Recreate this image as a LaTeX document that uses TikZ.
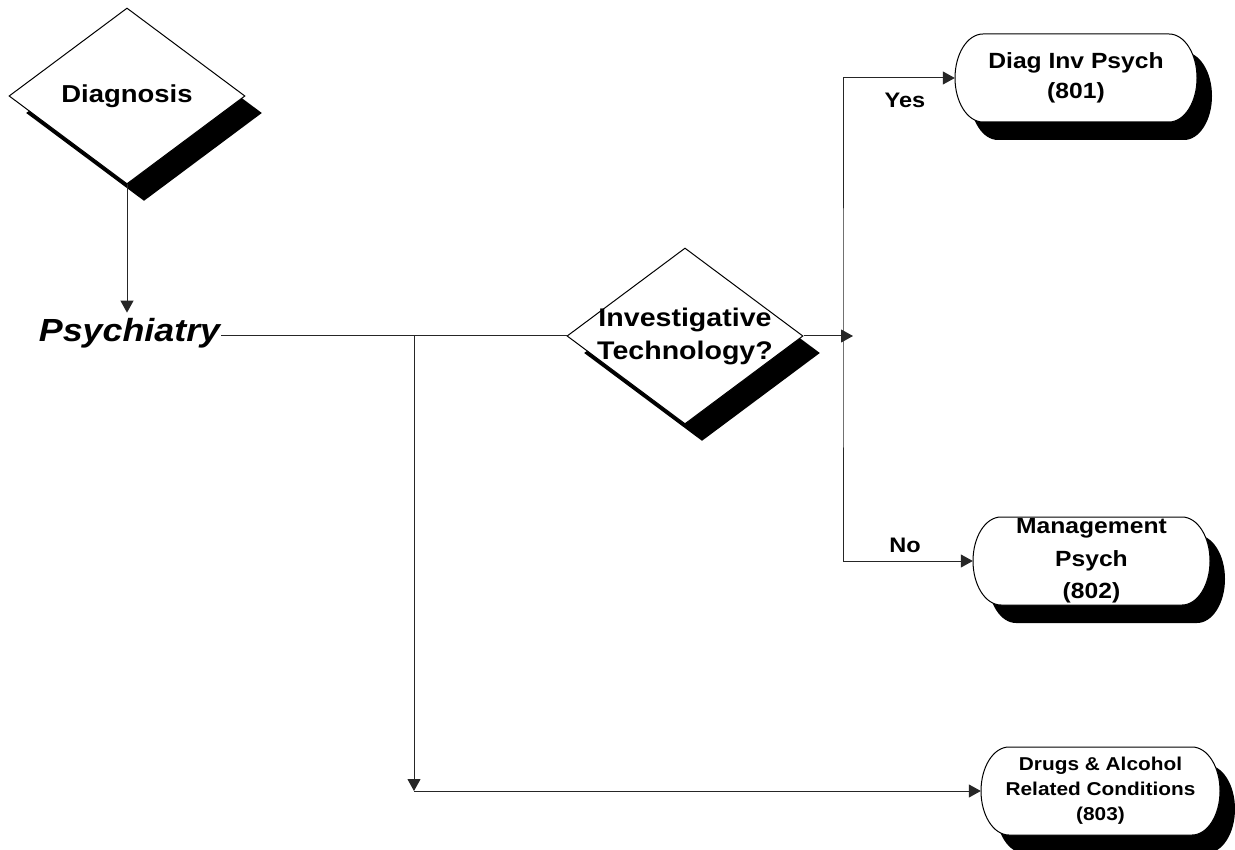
\documentclass[tikz,border=0pt]{standalone}
\usepackage{fontspec}
\setmainfont{Liberation Sans}[FakeStretch=1.12]
\usetikzlibrary{shapes.geometric,shadows,arrows.meta,backgrounds}
\tikzset{
  conn/.style={line width=1pt, draw=black!85},
  tipstyle/.style={},
  arr/.style={conn, -{Triangle[length=12pt,width=13pt]}},
  decision/.style={diamond, draw=black, line width=1pt, fill=white,
    minimum width=236pt, minimum height=176pt, inner sep=0pt,
    drop shadow={shadow xshift=17pt, shadow yshift=-17pt, fill=black, opacity=1}},
  termnode/.style={rectangle, inner sep=0pt, align=center},
  lbl/.style={font=\bfseries\fontsize{21}{25}\selectfont, anchor=base},
}
\newcommand\termshape[2]{%
  \begin{scope}[on background layer]
    \fill[black] ([shift={(15,18)}]#1.center) ++({-#2+28},-44) -- ++({2*#2-56},0)
      arc[start angle=90, end angle=-90, x radius=28pt, y radius=44pt]
      -- ++({-2*#2+56},0)
      arc[start angle=270, end angle=90, x radius=28pt, y radius=44pt] -- cycle;
    \draw[line width=1pt, fill=white] (#1.center) ++({-#2+28},-44) -- ++({2*#2-56},0)
      arc[start angle=90, end angle=-90, x radius=28pt, y radius=44pt]
      -- ++({-2*#2+56},0)
      arc[start angle=270, end angle=90, x radius=28pt, y radius=44pt] -- cycle;
  \end{scope}}
\begin{document}
\begin{tikzpicture}[x=1pt, y=-1pt]
\useasboundingbox (0,0) rectangle (1235,850);
\begin{scope}[on background layer]
  \fill[white] (0,0) rectangle (1235,850);
\end{scope}

% decisions
\node[decision, label={[font=\bfseries\fontsize{24.5}{29}\selectfont]center:Diagnosis}] (diag) at (127,96) {};
\node[decision, label={[font=\bfseries\fontsize{25.5}{33}\selectfont, align=center]center:Investigative\\Technology?}] (inv) at (685,336) {};

% category
\node[font=\bfseries\itshape\fontsize{32}{38}\selectfont, anchor=base, inner xsep=1pt, inner ysep=6pt] (psych) at (129.5,342) {Psychiatry};

% terminals
\node[termnode, minimum width=242pt, font=\bfseries\fontsize{22}{30}\selectfont] (dinv) at (1076,78) {Diag Inv Psych\\(801)};
\node[termnode, minimum width=237pt, font=\bfseries\fontsize{22}{32.5}\selectfont] (mgmt) at (1091.5,561) {Management\\Psych\\(802)};
\node[termnode, minimum width=239pt, font=\bfseries\fontsize{18.6}{25}\selectfont] (drugs) at (1100.5,791) {Drugs \& Alcohol\\Related Conditions\\(803)};
\termshape{dinv}{121}
\termshape{mgmt}{118.5}
\termshape{drugs}{119.5}

% labels
\node[lbl] (yes) at (905,108) {Yes};
\node[lbl] (no) at (905,552) {No};

% helper points
\coordinate (j1) at (414,336);
\coordinate (j2) at (414,791);
\coordinate (vx) at (843,336);
\coordinate (rtip) at (853,336);

% connectors
\draw[arr] (diag.south) -- (diag.south |- psych.north);
\draw[conn] (inv.west -| psych.east) -- (inv.west);
\draw[arr] (j1) -- (j2);
\draw[arr] (j2) -- (drugs.west);
\draw[arr] (inv.east) -- (rtip);
\draw[conn, {Triangle[length=12pt,width=13pt]}-{Triangle[length=12pt,width=13pt]}] (dinv.west) -| (vx) |- (mgmt.west);
\end{tikzpicture}
\end{document}
